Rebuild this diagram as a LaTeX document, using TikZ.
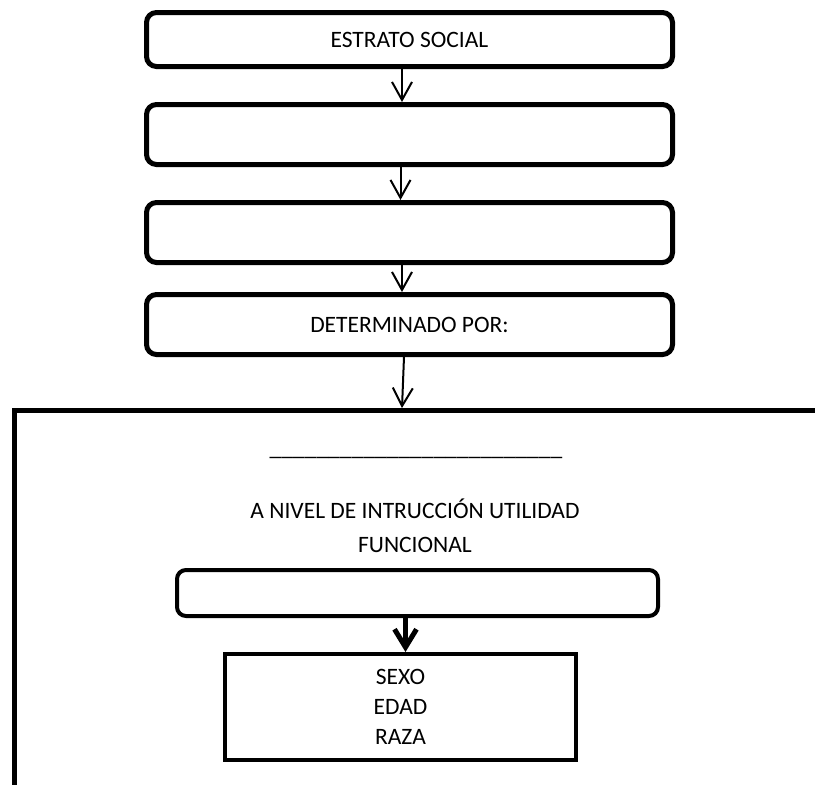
\documentclass[tikz,border=0pt]{standalone}
\usepackage{fontspec}
\setmainfont{Carlito}
\usetikzlibrary{arrows.meta}
\tikzset{
  rbox/.style={draw, line width=5pt, rounded corners=10pt, inner sep=0pt},
  lbox/.style={draw, line width=4pt, rounded corners=9pt, inner sep=0pt},
  sbox/.style={draw, line width=4pt, inner sep=0pt, align=center},
  txt/.style={inner sep=0pt},
  thinarrow/.style={line width=2pt, -{Straight Barb[length=18pt,width=20pt]}},
  thickarrow/.style={line width=5pt, -{Straight Barb[length=18pt,width=22pt]}},
  frame/.style={line width=5pt}
}
\begin{document}
\begin{tikzpicture}[x=1pt,y=-1pt,font=\fontsize{23.5}{30}\selectfont]
\useasboundingbox (0,0) rectangle (815,785);
\clip (0,0) rectangle (815,785);
\node[rbox, minimum width=526pt, minimum height=54pt] (b1) at (409.5,39.5) {ESTRATO SOCIAL};
\node[rbox, minimum width=526pt, minimum height=60pt] (b2) at (409.5,134.5) {};
\node[rbox, minimum width=526pt, minimum height=60pt] (b3) at (409.5,232.5) {};
\node[rbox, minimum width=526pt, minimum height=60pt] (b4) at (409.5,324.5) {DETERMINADO POR:};
\draw[thinarrow] ([xshift=-7.5pt]b1.south) -- ([xshift=-7.5pt]b2.north);
\draw[thinarrow] ([xshift=-9pt]b2.south) -- ([xshift=-9pt]b3.north);
\draw[thinarrow] ([xshift=-7.5pt]b3.south) -- ([xshift=-7.5pt]b4.north);
\coordinate (fl) at (14,800);
\coordinate (fc) at (14,410);
\coordinate (fr) at (830,410);
\coordinate (ftop) at (402,408);
\draw[frame] (fl) -- (fc) -- (fr);
\draw[thinarrow] ([xshift=-5.5pt]b4.south) -- (ftop);
\node[txt, anchor=base] (ul) at (416,455) {\_\_\_\_\_\_\_\_\_\_\_\_\_\_\_\_\_\_\_\_\_\_\_\_\_};
\node[txt, anchor=base] (t1) at (415,518) {A NIVEL DE INTRUCCIÓN UTILIDAD};
\node[txt, anchor=base] (t2) at (415,552) {FUNCIONAL};
\node[lbox, minimum width=481pt, minimum height=46pt] (lb) at (417.5,593) {};
\node[sbox, minimum width=351pt, minimum height=106pt] (sb) at (400.5,707) {SEXO\\EDAD\\RAZA};
\draw[thickarrow] (lb.south) ++(-12pt,0) coordinate (la) (la) -- (la |- sb.north);
\end{tikzpicture}
\end{document}
